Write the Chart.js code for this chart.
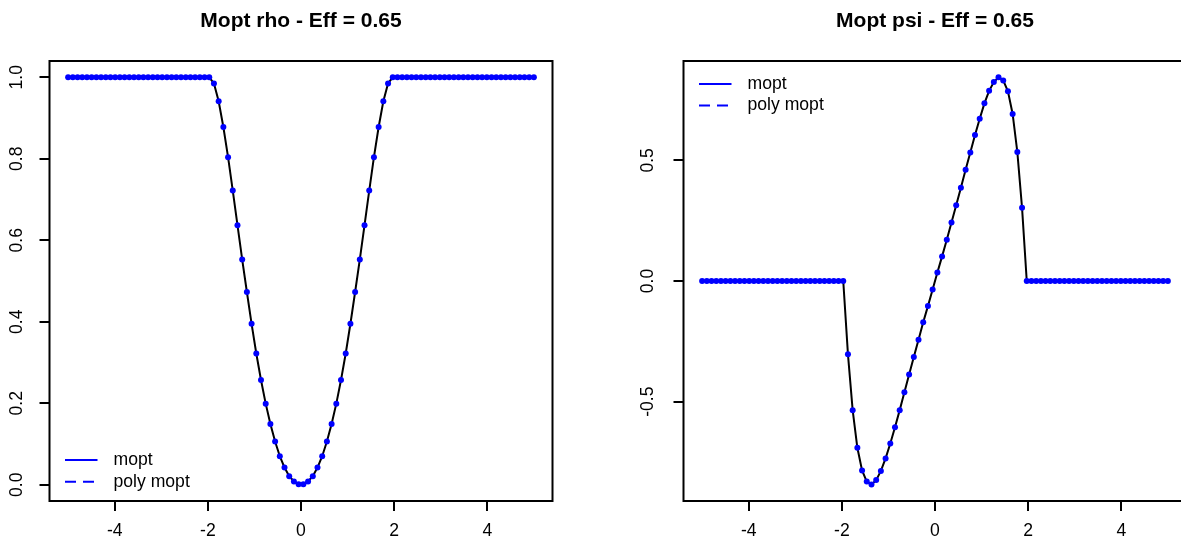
<!DOCTYPE html>
<html><head><meta charset="utf-8">
<script src="https://cdn.jsdelivr.net/npm/chart.js@4.4.0/dist/chart.umd.min.js"></script>
<style>
html,body{margin:0;padding:0;background:#fff;}
#wrap{position:relative;width:1181px;height:546px;overflow:hidden;background:#fff;}
canvas{position:absolute;top:0;}
</style></head><body>
<div id="wrap">
<canvas id="c1" width="634" height="546" style="left:0px"></canvas>
<canvas id="c2" width="634" height="546" style="left:634px"></canvas>
</div>
<script>
// x grid (100 points from -5 to 5)
const xVals = [-5.000,-4.899,-4.798,-4.697,-4.596,-4.495,-4.394,-4.293,-4.192,-4.091,
-3.990,-3.889,-3.788,-3.687,-3.586,-3.485,-3.384,-3.283,-3.182,-3.081,
-2.980,-2.879,-2.778,-2.677,-2.576,-2.475,-2.374,-2.273,-2.172,-2.071,
-1.970,-1.869,-1.768,-1.667,-1.566,-1.465,-1.364,-1.263,-1.162,-1.061,
-0.960,-0.859,-0.758,-0.657,-0.556,-0.455,-0.354,-0.253,-0.152,-0.051,
0.051,0.152,0.253,0.354,0.455,0.556,0.657,0.758,0.859,0.960,
1.061,1.162,1.263,1.364,1.465,1.566,1.667,1.768,1.869,1.970,
2.071,2.172,2.273,2.374,2.475,2.576,2.677,2.778,2.879,2.980,
3.081,3.182,3.283,3.384,3.485,3.586,3.687,3.788,3.889,3.990,
4.091,4.192,4.293,4.394,4.495,4.596,4.697,4.798,4.899,5.000];

const rhoVals = [1,1,1,1,1,1,1,1,1,1,
1,1,1,1,1,1,1,1,1,1,
1,1,1,1,1,1,1,1,1,1,
1,0.985,0.941,0.878,0.804,0.722,0.637,0.553,0.473,0.395,
0.322,0.257,0.199,0.149,0.106,0.070,0.042,0.021,0.008,0.001,
0.001,0.008,0.021,0.042,0.070,0.106,0.149,0.199,0.257,0.322,
0.395,0.473,0.553,0.637,0.722,0.804,0.878,0.941,0.985,1,
1,1,1,1,1,1,1,1,1,1,
1,1,1,1,1,1,1,1,1,1,
1,1,1,1,1,1,1,1,1,1];

const psiVals = [0,0,0,0,0,0,0,0,0,0,
0,0,0,0,0,0,0,0,0,0,
0,0,0,0,0,0,0,0,0,0,
0,-0.304,-0.535,-0.691,-0.785,-0.831,-0.843,-0.825,-0.787,-0.735,
-0.673,-0.606,-0.535,-0.461,-0.387,-0.315,-0.243,-0.171,-0.104,-0.035,
0.035,0.102,0.171,0.242,0.314,0.386,0.461,0.532,0.605,0.672,
0.736,0.788,0.824,0.844,0.831,0.786,0.692,0.534,0.303,0,
0,0,0,0,0,0,0,0,0,0,
0,0,0,0,0,0,0,0,0,0,
0,0,0,0,0,0,0,0,0,0];

const xTicks = [-4,-2,0,2,4];
const rhoTicks = [0,0.2,0.4,0.6,0.8,1.0];
const psiTicks = [-0.5,0,0.5];
const titles = ['Mopt rho - Eff = 0.65','Mopt psi - Eff = 0.65'];
const legendLabels = ['mopt','poly mopt'];

const FONT = '"Liberation Sans", Arial, sans-serif';
const FS = 17.6;

function makeChart(canvasId, yVals, yTicks, yMin, yMax, title, legendRows) {
  const pts = xVals.map((x,i)=>({x:x, y:yVals[i]}));
  const deco = {
    id:'deco',
    afterDraw(chart){
      const ctx = chart.ctx, ca = chart.chartArea;
      ctx.save();
      // box
      ctx.strokeStyle = '#000'; ctx.lineWidth = 2;
      ctx.strokeRect(ca.left, ca.top, ca.right-ca.left, ca.bottom-ca.top);
      // title
      ctx.fillStyle = '#000';
      ctx.font = 'bold 21px ' + FONT;
      ctx.textAlign = 'center'; ctx.textBaseline = 'middle';
      ctx.fillText(title, (ca.left+ca.right)/2, 21);
      // legend
      ctx.font = FS + 'px ' + FONT;
      ctx.textAlign = 'left';
      legendLabels.forEach((lab,i)=>{
        const y = legendRows[i];
        ctx.strokeStyle = '#0000ff'; ctx.lineWidth = 2;
        ctx.setLineDash(i===1 ? [11,7] : []);
        ctx.beginPath(); ctx.moveTo(ca.left+15.5, y); ctx.lineTo(ca.left+48, y); ctx.stroke();
        ctx.setLineDash([]);
        ctx.fillStyle = '#000';
        ctx.fillText(lab, ca.left+64, y);
      });
      ctx.restore();
    }
  };
  return new Chart(document.getElementById(canvasId), {
    type:'line',
    data:{datasets:[{
      label:'mopt',
      data:pts,
      borderColor:'#000',
      borderWidth:2,
      pointRadius:3,
      pointBackgroundColor:'#0000ff',
      pointBorderWidth:0,
      pointBorderColor:'#0000ff',
      tension:0,
      fill:false
    }]},
    options:{
      responsive:false, animation:false, devicePixelRatio:1,
      layout:{padding:{top:61,right:81.5,bottom:0,left:0}},
      plugins:{legend:{display:false}, title:{display:false}, tooltip:{enabled:false}},
      scales:{
        x:{type:'linear', min:-5.4, max:5.4,
          afterBuildTicks:s=>{s.ticks = xTicks.map(v=>({value:v}));},
          afterFit:s=>{s.height = 45;},
          grid:{drawOnChartArea:false, drawTicks:true, tickLength:10, color:'#000', lineWidth:2},
          border:{display:false},
          ticks:{padding:10, color:'#000', font:{family:FONT, size:FS}, maxRotation:0, autoSkip:false,
            callback:v=>String(v)}
        },
        y:{type:'linear', min:yMin, max:yMax,
          afterBuildTicks:s=>{s.ticks = yTicks.map(v=>({value:v}));},
          afterFit:s=>{s.width = 49.5;},
          grid:{drawOnChartArea:false, drawTicks:true, tickLength:10, color:'#000', lineWidth:2},
          border:{display:false},
          ticks:{padding:10, color:'#000', font:{family:FONT, size:FS}, minRotation:90, maxRotation:90,
            crossAlign:'center', autoSkip:false, callback:v=>Number(v).toFixed(1)}
        }
      }
    },
    plugins:[deco]
  });
}

makeChart('c1', rhoVals, rhoTicks, -0.04, 1.04, titles[0], [460, 481.7]);
makeChart('c2', psiVals, psiTicks, -0.9115, 0.9115, titles[1], [84, 105.5]);
</script>
</body></html>
